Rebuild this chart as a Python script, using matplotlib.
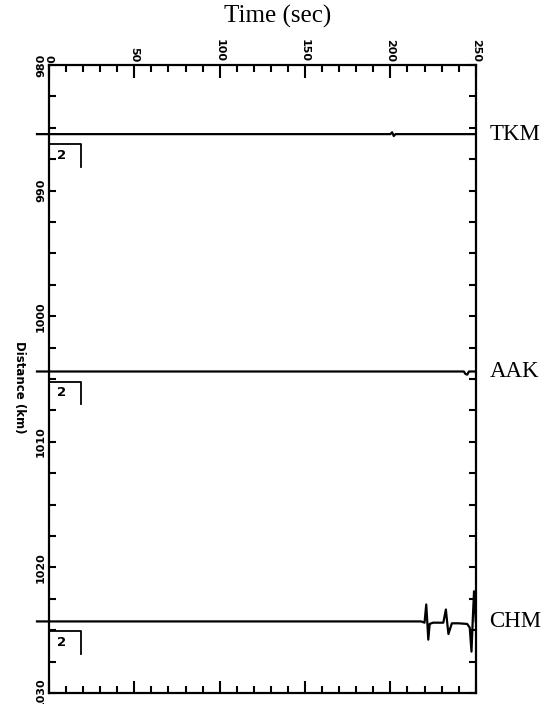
import numpy as np
import matplotlib
matplotlib.use("Agg")
import matplotlib.pyplot as plt
from matplotlib.ticker import MultipleLocator

# stations and their epicentral distance (km)
stations = ["TKM", "AAK", "CHM"]
distances = [985.5, 1004.4, 1024.3]

# traces: time (sec) and amplitude offset (km on the section, + is down)
tkm_t = [-7, 200, 201, 202, 203, 250]
tkm_amp = [0.0, 0.0, -0.15, 0.15, 0.0, 0.0]
aak_t = [-7, 243, 244, 245, 246, 250]
aak_amp = [0.0, 0.0, 0.2, 0.25, 0.0, 0.0]
chm_t = [-7, 218, 220, 221, 221.6, 222.2, 223, 225, 231, 232.5, 233.2, 234, 236,
         240, 245, 246.5, 247.5, 248.3, 249, 249.6, 250]
chm_amp = [0.0, 0.0, 0.1, -1.35, 0.0, 1.45, 0.2, 0.1, 0.1, -0.95, 0.0, 1.0, 0.15,
           0.15, 0.2, 0.5, 2.4, -0.3, -2.4, -1.0, 0.0]
traces = [(tkm_t, tkm_amp), (aak_t, aak_amp), (chm_t, chm_amp)]

scale_label = "2"

fig = plt.figure(figsize=(5.5, 7.04), dpi=100)
ax = fig.add_axes([0.089, 0.0156, 0.776, 0.892])

ax.set_xlim(0, 250)
ax.set_ylim(1030, 980)

for (t, a), d, name in zip(traces, distances, stations):
    y = d + np.array(a)
    ax.plot(t, y, color="black", lw=1.6, clip_on=False, zorder=3)
    ax.text(258, d, name, fontsize=16.5, family="Liberation Serif",
            va="center", ha="left", clip_on=False)
    # amplitude scale box under each trace
    ax.plot([0, 19, 19], [d + 0.8, d + 0.8, d + 2.6], color="black", lw=1.3)
    ax.text(7.5, d + 1.7, scale_label, fontsize=9.5, fontweight="bold",
            ha="center", va="center")

for s in ax.spines.values():
    s.set_linewidth(1.6)

ax.xaxis.set_major_locator(MultipleLocator(50))
ax.xaxis.set_minor_locator(MultipleLocator(10))
ax.yaxis.set_major_locator(MultipleLocator(10))
ax.yaxis.set_minor_locator(MultipleLocator(2.5))

ax.tick_params(axis="x", which="both", direction="in", top=True, bottom=True,
               labeltop=True, labelbottom=False, width=1.5)
ax.tick_params(axis="y", which="both", direction="in", left=True, right=True,
               labelleft=True, width=1.5)
ax.tick_params(which="major", length=9, pad=2)
ax.tick_params(which="minor", length=5)
ax.tick_params(axis="y", which="minor", right=True, length=5)
ax.tick_params(axis="y", which="major", right=True, length=5)

for lab in ax.get_xticklabels():
    lab.set_rotation(-90)
    lab.set_fontsize(8)
    lab.set_fontweight("bold")
    lab.set_verticalalignment("bottom")
for lab in ax.get_yticklabels():
    lab.set_rotation(90)
    lab.set_fontsize(8)
    lab.set_fontweight("bold")
    lab.set_verticalalignment("center")

fig.text(0.504, 0.976, "Time (sec)", fontsize=18, family="Liberation Serif",
         ha="center", va="center")
fig.text(0.036, 0.45, "Distance (km)", fontsize=8.5, fontweight="bold",
         rotation=-90, ha="center", va="center")

fig.savefig("out.png", dpi=100)
